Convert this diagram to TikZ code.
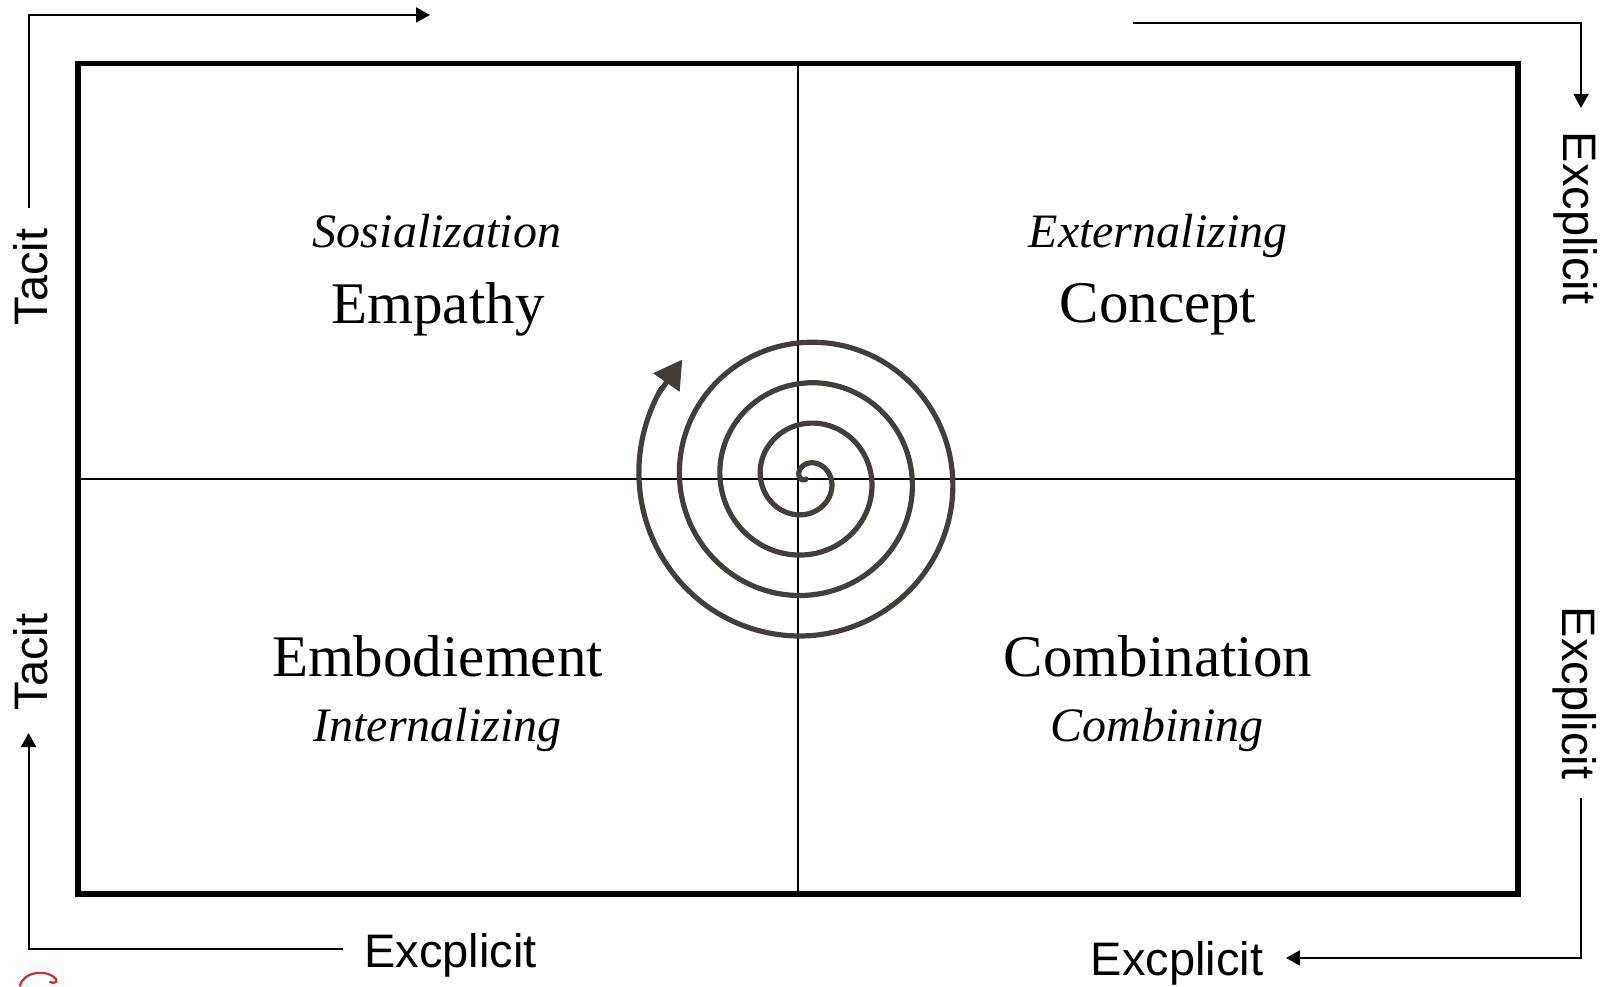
\documentclass[tikz,border=0pt]{standalone}
\usepackage{fontspec}
\setmainfont{Liberation Serif}
\newfontfamily\axisfont{Liberation Sans}
\usetikzlibrary{arrows.meta}
\definecolor{spiralc}{RGB}{68,62,56}
\definecolor{scribblec}{RGB}{205,45,45}
\begin{document}
\begin{tikzpicture}[x=1pt,y=1pt,
  frame/.style={line width=5.5pt, line join=miter},
  divider/.style={line width=2pt},
  axislab/.style={font=\axisfont\fontsize{47}{50}\selectfont, inner sep=0pt, text depth=0pt},
  axisflow/.style={line width=2pt, line join=miter, -{Triangle[length=14pt,width=15pt]}},
  mainlab/.style={font=\fontsize{59}{62}\selectfont, inner sep=0pt, anchor=base},
  sublab/.style={font=\itshape\fontsize{48}{50}\selectfont, inner sep=0pt, anchor=base},
  spiralline/.style={line width=5.2pt, draw=spiralc, line cap=round, line join=round},
]
\useasboundingbox (0,0) rectangle (1614,986);

% dividers and frame
\coordinate (fSW) at (78,92);
\coordinate (fNE) at (1518,922.5);
\coordinate (vT) at (798,922.5);
\coordinate (vB) at (798,92);
\coordinate (hL) at (78,507);
\coordinate (hR) at (1518,507);
\draw[divider] (vT) -- (vB);
\draw[divider] (hL) -- (hR);
\draw[frame] (fSW) rectangle (fNE);

% quadrant labels
\node[sublab]  (soc) at (437,738)   {Sosialization};
\node[mainlab] (emp) at (438,662)   {Empathy};
\node[sublab]  (ext) at (1158,738)  {Externalizing};
\node[mainlab] (con) at (1158,663)  {Concept};
\node[mainlab] (emb) at (437.5,309) {Embodiement};
\node[sublab]  (int) at (437.5,245) {Internalizing};
\node[mainlab] (cmb) at (1158,309)  {Combination};
\node[sublab]  (cmg) at (1157,245)  {Combining};

% axis labels
\node[axislab, rotate=90]  (tacitU) at (30.5,709)  {Tacit};
\node[axislab, rotate=90]  (tacitL) at (30,324)    {Tacit};
\node[axislab, rotate=-90] (explU)  at (1580.5,768) {Excplicit};
\node[axislab, rotate=-90] (explL)  at (1580,293)  {Excplicit};
\node[axislab] (explBL) at (450.5,35.5) {Excplicit};
\node[axislab] (explBR) at (1177,27.5)  {Excplicit};

% axis connectors
\coordinate (a1s) at (29,778);
\coordinate (a1c) at (29,971);
\coordinate (a1e) at (430,971);
\draw[axisflow] (a1s) -- (a1c) -- (a1e);

\coordinate (a2s) at (1133,963);
\coordinate (a2c) at (1581,963);
\coordinate (a2e) at (1581,878);
\draw[axisflow] (a2s) -- (a2c) -- (a2e);

\coordinate (a3s) at (1581,188);
\coordinate (a3c) at (1581,28);
\coordinate (a3e) at (1286,28);
\draw[axisflow] (a3s) -- (a3c) -- (a3e);

\coordinate (a4s) at (343,37);
\coordinate (a4c) at (28.6,37);
\coordinate (a4e) at (28.6,253);
\draw[axisflow] (a4s) -- (a4c) -- (a4e);

% spiral
\begin{scope}[shift={(806,507)}]
\draw[spiralline] plot[domain=223:-1292, samples=600, smooth] (\x:{15+0.1126*(90-\x)});
\coordinate (sb) at (-1290:{15+0.1126*1380});
\coordinate (st) at (-1304:{15+0.1126*1394});
\draw[spiralline, line cap=butt, -{Triangle[length=28pt,width=31pt]}] (sb) -- (st);
\end{scope}

% red scribble at lower left edge
\draw[scribblec, line width=2.2pt, line cap=round] (20,0) .. controls (23,15) and (48,17) .. (56,7) .. controls (58,4) and (54,2) .. (50,4);
\end{tikzpicture}
\end{document}
